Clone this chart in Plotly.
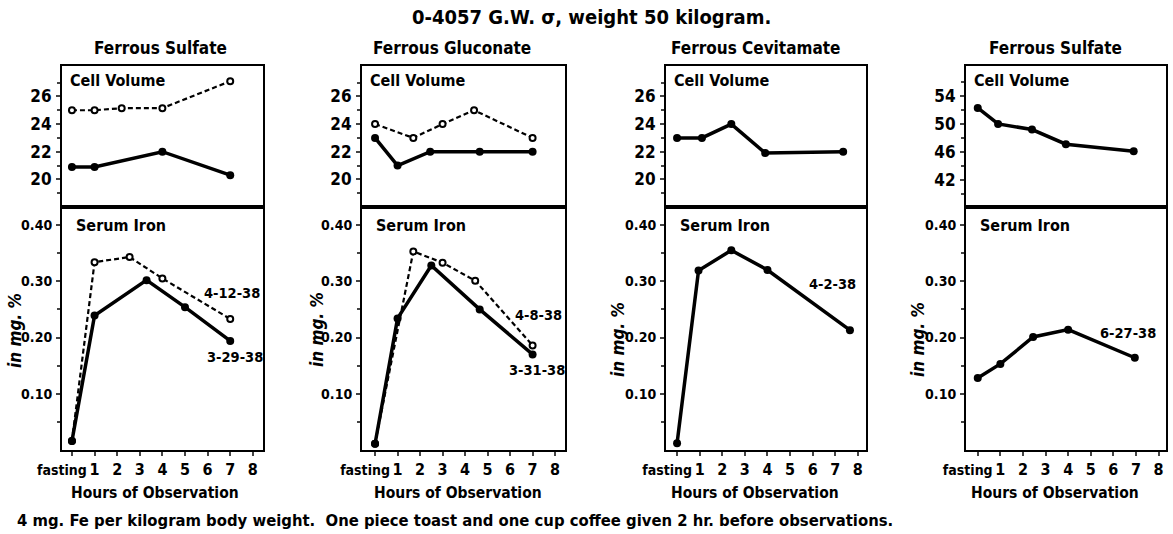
import plotly.graph_objects as go

W, H = 1173, 534
FONT = "DejaVu Sans Condensed, Liberation Sans Narrow, Roboto, sans-serif"

# ---------------- data ----------------
panel_titles = ["Ferrous Sulfate", "Ferrous Gluconate", "Ferrous Cevitamate", "Ferrous Sulfate"]
hour_ticks = [0, 1, 2, 3, 4, 5, 6, 7, 8]
hour_labels = ["<span style='font-size:14px'>fasting</span>\u00a0\u00a0\u00a0\u00a0",
               "1", "2", "3", "4", "5", "6", "7", "8"]

# Panel 1: Ferrous Sulfate (solid 3-29-38, dashed 4-12-38)
p1_cv_solid_x = [0, 1, 4, 7]
p1_cv_solid = [20.9, 20.9, 22.0, 20.3]
p1_cv_dash_x = [0, 1, 2.2, 4, 7]
p1_cv_dash = [25.0, 25.0, 25.15, 25.15, 27.1]
p1_si_solid_x = [0, 1, 3.3, 5, 7]
p1_si_solid = [0.016, 0.239, 0.302, 0.254, 0.194]
p1_si_dash_x = [0, 1, 2.55, 4, 7]
p1_si_dash = [0.016, 0.334, 0.343, 0.305, 0.233]

# Panel 2: Ferrous Gluconate (solid 3-31-38, dashed 4-8-38)
p2_cv_solid_x = [0, 1, 2.45, 4.65, 7]
p2_cv_solid = [23, 21, 22, 22, 22]
p2_cv_dash_x = [0, 1.7, 3, 4.4, 7]
p2_cv_dash = [24, 23, 24, 25, 23]
p2_si_solid_x = [0, 1, 2.5, 4.65, 7]
p2_si_solid = [0.011, 0.234, 0.328, 0.25, 0.17]
p2_si_dash_x = [0, 1.7, 3, 4.45, 7]
p2_si_dash = [0.011, 0.353, 0.333, 0.301, 0.186]

# Panel 3: Ferrous Cevitamate (4-2-38)
p3_cv_x = [0, 1.1, 2.4, 3.9, 7.35]
p3_cv = [23, 23, 24, 21.9, 22]
p3_si_x = [0, 0.95, 2.4, 4, 7.65]
p3_si = [0.012, 0.319, 0.355, 0.32, 0.213]

# Panel 4: Ferrous Sulfate (6-27-38)
p4_cv_x = [0, 0.9, 2.4, 3.9, 6.9]
p4_cv = [52.3, 50.0, 49.2, 47.1, 46.1]
p4_si_x = [0, 1, 2.45, 4, 6.95]
p4_si = [0.128, 0.153, 0.201, 0.214, 0.164]

cv_ticks_low = [20, 22, 24, 26]
cv_minor_low = [19, 21, 23, 25, 27]
cv_ticks_high = [42, 46, 50, 54]
cv_minor_high = [40, 44, 48, 52, 56]
si_ticks = [0.10, 0.20, 0.30, 0.40]
si_ticklabels = ["0.10", "0.20", "0.30", "0.40"]
si_minor = [0.05, 0.15, 0.25, 0.35]

date_labels = [
    (1, "4-12-38", 7.1, 0.28), (1, "3-29-38", 7.2, 0.165),
    (2, "4-8-38", 7.25, 0.24), (2, "3-31-38", 7.2, 0.142),
    (3, "4-2-38", 6.86, 0.295),
    (4, "6-27-38", 6.65, 0.208),
]

# ---------------- layout helpers ----------------
panel_px = [(62, 263), (362, 565), (666, 866), (966, 1166)]
x_ranges = [(-0.44, 8.45), (-0.58, 8.44), (-0.49, 8.36), (-0.52, 8.33)]
top_px, mid_px, bot_px = 66, 207, 450
cv_ranges = [(18.0, 28.2), (18.0, 28.2), (18.0, 28.2), (38.1, 58.3)]

fig = go.Figure()

def solid(x, y, xa, ya):
    fig.add_trace(go.Scatter(x=x, y=y, xaxis=xa, yaxis=ya, mode="lines+markers",
                             line=dict(color="black", width=3.5),
                             marker=dict(color="black", size=8), showlegend=False,
                             hoverinfo="skip"))

def dashed(x, y, xa, ya):
    fig.add_trace(go.Scatter(x=x, y=y, xaxis=xa, yaxis=ya, mode="lines+markers",
                             line=dict(color="black", width=2.2, dash="5px,3px"),
                             marker=dict(color="white", size=6, line=dict(color="black", width=2)),
                             showlegend=False, hoverinfo="skip"))

solid(p1_cv_solid_x, p1_cv_solid, "x", "y")
dashed(p1_cv_dash_x, p1_cv_dash, "x", "y")
dashed(p1_si_dash_x, p1_si_dash, "x2", "y2")
solid(p1_si_solid_x, p1_si_solid, "x2", "y2")

dashed(p2_cv_dash_x, p2_cv_dash, "x3", "y3")
solid(p2_cv_solid_x, p2_cv_solid, "x3", "y3")
dashed(p2_si_dash_x, p2_si_dash, "x4", "y4")
solid(p2_si_solid_x, p2_si_solid, "x4", "y4")

solid(p3_cv_x, p3_cv, "x5", "y5")
solid(p3_si_x, p3_si, "x6", "y6")

solid(p4_cv_x, p4_cv, "x7", "y7")
solid(p4_si_x, p4_si, "x8", "y8")

layout = dict(
    width=W, height=H, margin=dict(l=0, r=0, t=0, b=0, autoexpand=False),
    paper_bgcolor="white", plot_bgcolor="white",
    font=dict(family=FONT, color="black"),
)
ann = []

def k(name, i):
    return name if i == 1 else f"{name}{i}"

def pa(text, px, py, size, xanchor="center", **kw):
    return dict(text=text, x=px / W, y=1 - py / H, xref="paper", yref="paper",
                xanchor=xanchor, yanchor="middle", showarrow=False,
                font=dict(size=size, family=FONT, weight="bold"), **kw)

for p in range(4):
    l, r = panel_px[p]
    xd = [l / W, r / W]
    ti, bi = 2 * p + 1, 2 * p + 2
    common_line = dict(showline=True, linecolor="black", linewidth=2, mirror=True,
                       showgrid=False, zeroline=False, automargin=False)
    # top (cell volume)
    layout[k("xaxis", ti)] = dict(domain=xd, anchor=k("y", ti), range=list(x_ranges[p]),
                                  showticklabels=False, ticks="", **common_line)
    if p < 3:
        tv, mv = cv_ticks_low, cv_minor_low
    else:
        tv, mv = cv_ticks_high, cv_minor_high
    layout[k("yaxis", ti)] = dict(domain=[1 - mid_px / H, 1 - top_px / H], anchor=k("x", ti),
                                  range=list(cv_ranges[p]), tickvals=tv, ticks="outside",
                                  ticklen=4, tickwidth=1.5, ticklabelstandoff=1,
                                  minor=dict(tickvals=mv, ticks="outside", ticklen=3, tickwidth=1.5),
                                  tickfont=dict(size=17, family=FONT, weight="bold"), **common_line)
    # bottom (serum iron)
    layout[k("xaxis", bi)] = dict(domain=xd, anchor=k("y", bi), range=list(x_ranges[p]),
                                  tickvals=hour_ticks, ticktext=hour_labels, ticks="outside",
                                  tickangle=0, ticklen=4, tickwidth=1.5, ticklabelstandoff=0,
                                  tickfont=dict(size=16, family=FONT, weight="bold"), **common_line)
    layout[k("yaxis", bi)] = dict(domain=[1 - bot_px / H, 1 - mid_px / H], anchor=k("x", bi),
                                  range=[0, 0.432], tickvals=si_ticks, ticktext=si_ticklabels,
                                  ticks="outside", ticklen=4, tickwidth=1.5, ticklabelstandoff=1,
                                  minor=dict(tickvals=si_minor, ticks="outside", ticklen=3, tickwidth=1.5),
                                  tickfont=dict(size=14, family=FONT, weight="bold"), **common_line)
    # panel title
    ann.append(pa(panel_titles[p], [160, 452, 755, 1055][p], 48, 17))
    # in-box labels
    ann.append(pa("Cell Volume", l + 6, 80, 16, xanchor="left"))
    ann.append(pa("Serum Iron", l + 12, 225, 16, xanchor="left"))
    # y label
    ann.append(pa("<i>in mg. %</i>", [15, 317, 618, 918][p], [331, 330, 340, 340][p], 17,
                  textangle=-90))
    # x title
    ann.append(pa("Hours of Observation", [155, 458, 755, 1055][p], 493, 15.5))

for p, txt, xx, yy in date_labels:
    bi = 2 * p
    ann.append(dict(text=txt, x=xx, y=yy, xref=k("x", bi), yref=k("y", bi), showarrow=False,
                    xanchor="center", yanchor="middle",
                    font=dict(size=14.5, family=FONT, weight="bold")))

ann.append(pa("0-4057 G.W. σ, weight 50 kilogram.", 591, 17, 20))
ann.append(pa("4 mg. Fe per kilogram body weight.  One piece toast and one cup coffee given 2 hr. before observations.",
              15, 520, 16.5, xanchor="left"))

layout["annotations"] = ann
fig.update_layout(**layout)
fig.write_html("out.html")
